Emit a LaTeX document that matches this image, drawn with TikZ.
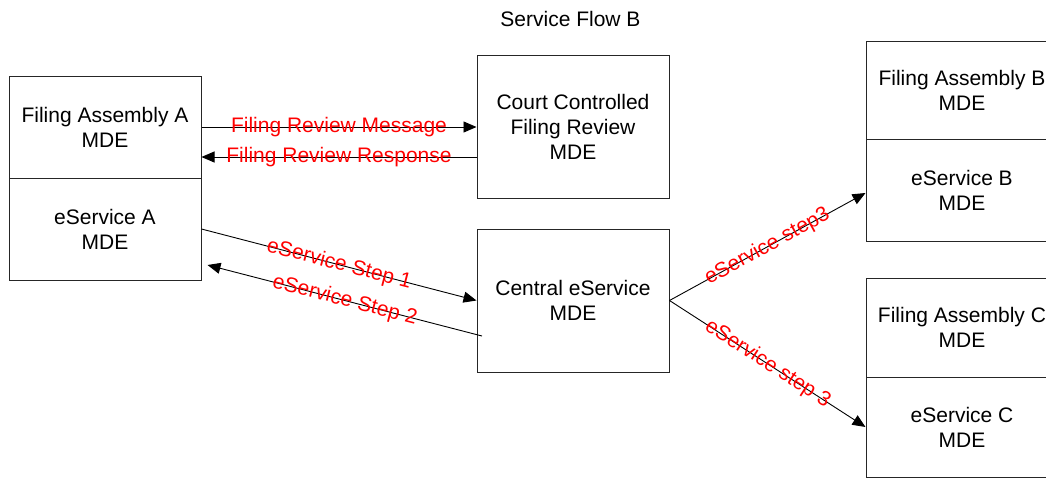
\documentclass[tikz,border=0pt]{standalone}
\usepackage{fontspec}
\setmainfont{Liberation Sans}
\usetikzlibrary{arrows.meta}
\begin{document}
\begin{tikzpicture}[x=1pt,y=-1pt,
  every node/.style={font=\fontsize{21}{25}\selectfont, inner sep=0pt},
  box/.style={draw=black!85, line width=1pt, minimum width=192pt, align=center},
  flow/.style={draw=black, line width=0.9pt, -{Triangle[length=13pt,width=11pt]}},
  tag/.style={text=red, midway, sloped}
]
\useasboundingbox (0,0) rectangle (1046,477);
\clip (0,0) rectangle (1046,477);

% title
\node (title) at (570.5,19) {Service Flow B};

% sender side
\node[box, minimum height=102pt] (faA) at (105,127) {Filing Assembly A\\MDE};
\node[box, minimum height=102pt] (esA) at (105,229) {eService A\\MDE};

% middle services
\node[box, minimum height=143pt] (court) at (573,126.5) {Court Controlled\\Filing Review\\MDE};
\node[box, minimum height=143pt] (central) at (573,300.5) {Central eService\\MDE};

% receivers
\node[box, minimum height=98pt]  (faB) at (962,90)    {Filing Assembly B\\MDE};
\node[box, minimum height=102pt] (esB) at (962,190)   {eService B\\MDE};
\node[box, minimum height=99pt]  (faC) at (962,327.5) {Filing Assembly C\\MDE};
\node[box, minimum height=100pt] (esC) at (962,427)   {eService C\\MDE};

% filing review exchange
\draw[flow] (faA.east) -- (faA.east -| court.west)
  node[tag] {Filing Review Message};
\draw[flow] ([yshift=-30.5pt]court.west) -- ([yshift=-30.5pt]court.west -| faA.east)
  node[tag] {Filing Review Response};

% eService steps
\coordinate (s2from) at (482,336);
\coordinate (s2to) at ([xshift=6pt,yshift=-36pt]esA.east);
\draw[flow] (esA.east) -- (central.west) node[tag] {eService Step 1};
\draw[flow] (s2from) -- (s2to) node[tag] {eService Step 2};
\draw[flow] (central.east) -- ([yshift=-3pt]esB.west) node[tag] {eService step3};
\draw[flow] (central.east) -- (esC.west) node[tag] {eService step 3};
\end{tikzpicture}
\end{document}
